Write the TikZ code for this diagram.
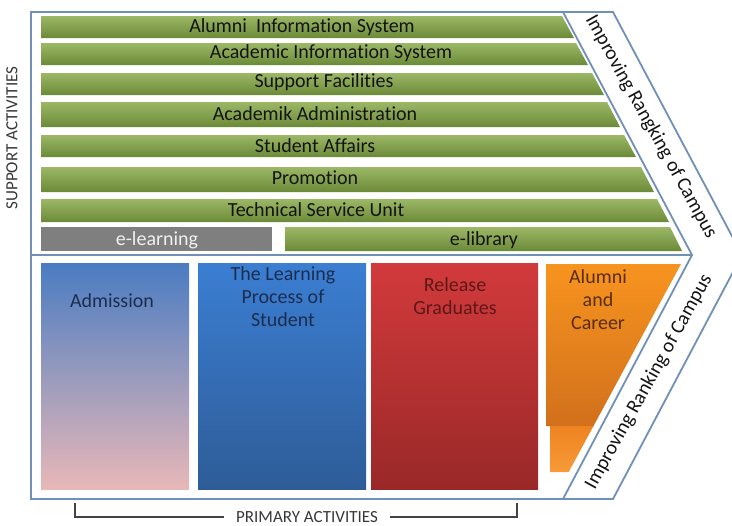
\documentclass[tikz,border=0pt]{standalone}
\usepackage{fontspec}
\setmainfont{Carlito}[Ligatures=NoCommon]
\usepackage{tikz}
\usetikzlibrary{positioning}
\definecolor{marco}{HTML}{7090B8}
\definecolor{verdea}{HTML}{9CB866}
\definecolor{verdeb}{HTML}{6B8A38}
\definecolor{gris}{HTML}{7F7F7F}
\definecolor{tinta}{HTML}{141414}
\definecolor{azulos}{HTML}{1C2D4F}
\definecolor{rojoos}{HTML}{5E1818}
\definecolor{marron}{HTML}{5A2C0A}
\definecolor{adma}{HTML}{4A7CC2}
\definecolor{admb}{HTML}{E8B8B8}
\definecolor{lrna}{HTML}{3B7ED2}
\definecolor{lrnb}{HTML}{2E5C98}
\definecolor{rela}{HTML}{D23A3C}
\definecolor{relb}{HTML}{9A2828}
\definecolor{alua}{HTML}{F7941F}
\definecolor{alub}{HTML}{D2701C}
\definecolor{aluc}{HTML}{EE8420}
\definecolor{alud}{HTML}{F79A38}
\tikzset{
  barra/.style={top color=verdea,bottom color=verdeb,draw=none},
  rotulo/.style={font=\fontsize{10}{12}\selectfont,color=tinta,inner sep=0pt},
  bloque/.style={font=\fontsize{10}{11.5}\selectfont,align=center,inner sep=0pt},
  lateral/.style={font=\fontsize{8.5}{10}\selectfont,color=tinta!85,inner sep=0pt},
  linea/.style={draw=marco,line width=0.9pt},
}
\begin{document}
\begin{tikzpicture}[x=0.5pt,y=-0.5pt]
  \clip (0,0) rectangle (732,525);
  % support activities
  \shade[barra] (41,16) -- (562,16) -- (574,38) -- (41,38) -- cycle;
  \shade[barra] (41,43) -- (576,43) -- (588,65) -- (41,65) -- cycle;
  \shade[barra] (41,73) -- (592,73) -- (604,95) -- (41,95) -- cycle;
  \shade[barra] (41,102) -- (607,102) -- (620,127) -- (41,127) -- cycle;
  \shade[barra] (41,135) -- (624,135) -- (636,157) -- (41,157) -- cycle;
  \shade[barra] (41,167) -- (641,167) -- (654,192) -- (41,192) -- cycle;
  \shade[barra] (41,199) -- (657,199) -- (669,222) -- (41,222) -- cycle;
  \fill[gris] (41,227) rectangle (272,251);
  \shade[barra] (285,227) -- (670,227) -- (682,251) -- (285,251) -- cycle;
  \node[rotulo] (ais) at (302,27) {Alumni\ \ Information System};
  \node[rotulo] (acis) at (331,53) {Academic Information System};
  \node[rotulo] (sf) at (324,82) {Support Facilities};
  \node[rotulo] (aa) at (315,114) {Academik Administration};
  \node[rotulo] (sa) at (315,146) {Student Affairs};
  \node[rotulo] (prom) at (315,178) {Promotion};
  \node[rotulo] (tsu) at (316,210) {Technical Service Unit};
  \node[rotulo,color=white!88!gris] (elearn) at (157,240) {e-learning};
  \node[rotulo] (elib) at (484,240) {e-library};
  % primary activities
  \shade[top color=adma,bottom color=admb] (41,263) rectangle (189,489);
  \shade[top color=lrna,bottom color=lrnb] (198,263) rectangle (366,489);
  \shade[top color=rela,bottom color=relb] (371,263) rectangle (538,489);
  \shade[top color=alua,bottom color=alub] (546,264) -- (681,264) -- (593.5,426) -- (546,426) -- cycle;
  \shade[top color=aluc,bottom color=alud] (550,426) -- (593.5,426) -- (568.7,472) -- (550,472) -- cycle;
  \node[bloque,color=azulos] (adm) at (112,301) {Admission};
  \node[bloque,color=azulos] (lps) at (283,297) {The Learning\\Process of\\Student};
  \node[bloque,color=rojoos] (rg) at (455,296) {Release\\Graduates};
  \node[bloque,color=marron] (ac) at (598,300) {Alumni\\and\\Career};
  % frame
  \draw[linea] (31,12) -- (613,12) -- (742,255) -- (613,499) -- (31,499) -- cycle;
  \draw[linea] (563,12) -- (692,255) -- (563,499);
  \draw[linea] (31,255) -- (692,255);
  \node[rotulo,rotate=-61] (irc1) at (651,127) {Improving Rangking of Campus};
  \node[rotulo,rotate=61] (irc2) at (649,382) {Improving Ranking of Campus};
  % labels
  \node[lateral,rotate=90] (sup) at (12,138) {SUPPORT ACTIVITIES};
  \node[lateral] (pri) at (307,517) {PRIMARY ACTIVITIES};
  \draw[tinta!80,line width=0.6pt] (pri.west) ++(-12,0) -| (75,503);
  \draw[tinta!80,line width=0.6pt] (pri.east) ++(12,0) -| (517,503);
\end{tikzpicture}
\end{document}
